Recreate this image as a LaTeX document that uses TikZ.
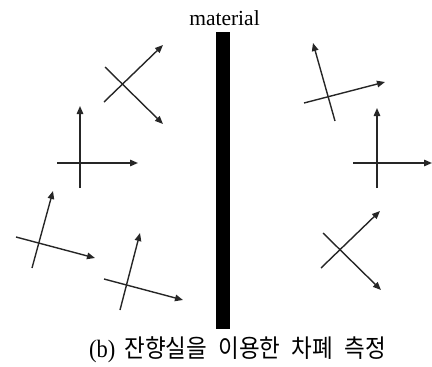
\documentclass[tikz,border=0pt]{standalone}
\usepackage{fontspec}
\setmainfont{Liberation Serif}
\newfontfamily\krfont{Noto Sans CJK KR}
\usetikzlibrary{arrows.meta}
\begin{document}
\begin{tikzpicture}[x=1pt,y=-1pt,
  vec/.style={draw=black!85, line width=1.4pt, -{Triangle[length=8pt,width=6.5pt]}},
  barbox/.style={fill=black, draw=none, minimum width=14pt, minimum height=297pt, inner sep=0pt},
  lbl/.style={inner sep=0pt, anchor=base}]
\useasboundingbox (0,0) rectangle (432,367);
% bar and labels
\node[barbox] (bar) at (223,180.5) {};
\node[lbl, font=\fontsize{21.5}{21.5}\selectfont] (mat) at (224.5,25) {material};
\node[lbl, font=\fontsize{25}{25}\selectfont] (cap) at (237.5,357.5)
  {\scalebox{0.9}[1]{(b)\hspace{0.4em}\krfont 잔향실을\hspace{0.5em}이용한\hspace{0.5em}차폐\hspace{0.5em}측정}};
% left top X
\coordinate (a1s) at (104,102); \coordinate (a1t) at (163,45);
\coordinate (a2s) at (105,67);  \coordinate (a2t) at (163,124);
% left middle plus
\coordinate (b1s) at (80,188);  \coordinate (b1t) at (80,106);
\coordinate (b2s) at (57,163);  \coordinate (b2t) at (138,163);
% left bottom-left
\coordinate (c1s) at (32,268);  \coordinate (c1t) at (53,191);
\coordinate (c2s) at (16,237);  \coordinate (c2t) at (95,258);
% left bottom-right
\coordinate (d1s) at (120,310); \coordinate (d1t) at (140,233);
\coordinate (d2s) at (104,279); \coordinate (d2t) at (183,300);
% right top
\coordinate (e1s) at (335,121); \coordinate (e1t) at (313,43);
\coordinate (e2s) at (304,103); \coordinate (e2t) at (385,82);
% right middle plus
\coordinate (f1s) at (377,188); \coordinate (f1t) at (377,108);
\coordinate (f2s) at (353,163); \coordinate (f2t) at (432,163);
% right bottom X
\coordinate (g1s) at (321,268); \coordinate (g1t) at (380,211);
\coordinate (g2s) at (323,233); \coordinate (g2t) at (381,290);
\foreach \p in {a,b,c,d,e,f,g}{
  \draw[vec] (\p1s) -- (\p1t);
  \draw[vec] (\p2s) -- (\p2t);
}
\end{tikzpicture}
\end{document}
